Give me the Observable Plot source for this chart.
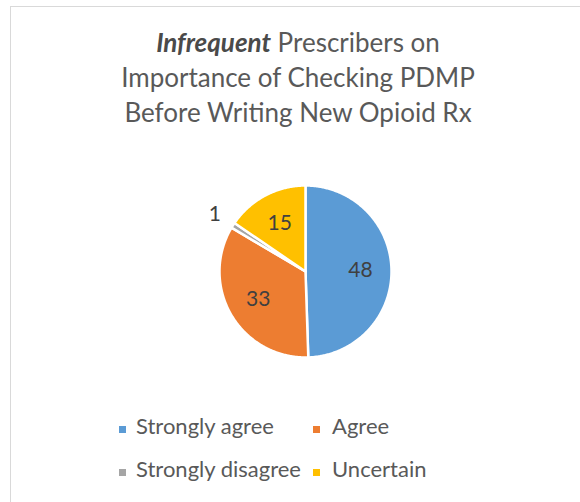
<!DOCTYPE html>
<html>
<head>
<meta charset="utf-8">
<script src="https://cdn.jsdelivr.net/npm/d3@7"></script>
<script src="https://cdn.jsdelivr.net/npm/@observablehq/plot@0.6"></script>
<style>
  html, body { margin: 0; padding: 0; background: #fff; }
  #wrap { position: relative; width: 580px; height: 502px; overflow: hidden; font-family: Lato, "Open Sans", sans-serif; }
  #frame { position: absolute; left: 10px; top: 6px; width: 600px; height: 520px; border: 1.5px solid #d9d9d9; box-sizing: border-box; }
  #title { position: absolute; left: 0; top: 25px; width: 596px; text-align: center; font-size: 26px; line-height: 35px; color: #595959; }
  #title b { color: #4a4a4a; }
  #chart { position: absolute; left: 0; top: 140px; }
  .lg { position: absolute; font-size: 22px; color: #595959; line-height: 22px; white-space: nowrap; }
  .sw { position: absolute; width: 7px; height: 7px; }
</style>
</head>
<body>
<div id="wrap">
  <div id="frame"></div>
  <div id="title"><b><i>Infrequent</i></b> Prescribers on<br>Importance of Checking PDMP<br>Before Writing New Opioid Rx</div>
  <div id="chart"></div>
  <div id="legend"></div>
</div>
<script>
const categories = ["Strongly agree", "Agree", "Strongly disagree", "Uncertain"];
const values = [48, 33, 1, 15];
const colors = ["#5B9BD5", "#ED7D31", "#A5A5A5", "#FFC000"];

const data = categories.map((c, i) => ({category: c, value: values[i]}));
const arcs = d3.pie().sort(null).value(d => d.value)(data);

function wedge(a) {
  const pts = [[0, 0]];
  const n = Math.max(2, Math.ceil((a.endAngle - a.startAngle) / 0.01));
  for (let k = 0; k <= n; k++) {
    const t = a.startAngle + (a.endAngle - a.startAngle) * k / n;
    pts.push([Math.sin(t), -Math.cos(t)]);
  }
  pts.push([0, 0]);
  return {type: "Feature", properties: {category: a.data.category, value: a.data.value}, geometry: {type: "Polygon", coordinates: [pts]}};
}
const features = arcs.map(wedge);

const labels = arcs.map(a => {
  const m = (a.startAngle + a.endAngle) / 2;
  const r = a.data.value < 3 ? 1.25 : 0.64;
  return {x: r * Math.sin(m), y: -r * Math.cos(m), text: String(a.data.value)};
});

const W = 580, H = 250, cx = 305, cy = 131, R = 86;
const plot = Plot.plot({
  width: W,
  height: H,
  marginLeft: cx - R,
  marginRight: W - cx - R,
  marginTop: cy - R,
  marginBottom: H - cy - R,
  projection: {type: "identity", domain: {type: "MultiPoint", coordinates: [[-1, -1], [1, 1]]}, clip: false},
  color: {domain: categories, range: colors},
  style: {background: "transparent", fontFamily: "Lato, 'Open Sans', sans-serif", overflow: "visible"},
  marks: [
    Plot.geo(features, {fill: d => d.properties.category, stroke: "white", strokeWidth: 2.5}),
    Plot.text(labels, {x: "x", y: "y", text: "text", fontSize: 21, fill: "#404040", clip: false})
  ]
});
document.getElementById("chart").appendChild(plot);

// legend
const legend = document.getElementById("legend");
const pos = [[119, 136, 415, 426], [313, 332, 415, 426], [119, 136, 458, 469], [313, 332, 458, 469]];
categories.forEach((c, i) => {
  const [sx, tx, ty, sy] = pos[i];
  const sw = document.createElement("div");
  sw.className = "sw";
  sw.style.left = sx + "px";
  sw.style.top = sy + "px";
  sw.style.background = colors[i];
  legend.appendChild(sw);
  const t = document.createElement("div");
  t.className = "lg";
  t.style.left = tx + "px";
  t.style.top = ty + "px";
  t.textContent = c;
  legend.appendChild(t);
});
</script>
</body>
</html>
